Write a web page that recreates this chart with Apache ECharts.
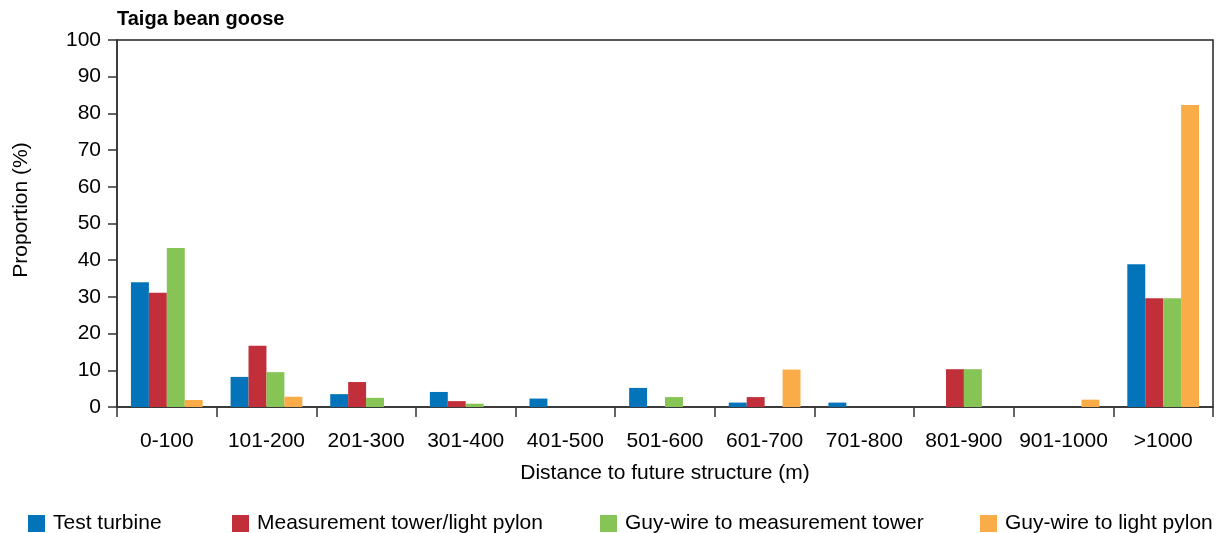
<!DOCTYPE html>
<html><head><meta charset="utf-8">
<script src="https://cdn.jsdelivr.net/npm/echarts@6/dist/echarts.min.js"></script>
<style>html,body{margin:0;padding:0;background:#fff}#c{width:1217px;height:533px}</style>
</head><body><div id="c"></div>
<script>
const categories = ['0-100','101-200','201-300','301-400','401-500','501-600','601-700','701-800','801-900','901-1000','>1000'];
const testTurbine = [34.0, 8.2, 3.5, 4.1, 2.3, 5.2, 1.2, 1.2, null, null, 38.9];
const measTower = [31.1, 16.7, 6.8, 1.6, null, null, 2.7, null, 10.3, null, 29.6];
const guyMeas = [43.3, 9.5, 2.5, 0.9, null, 2.7, null, null, 10.3, null, 29.6];
const guyLight = [1.9, 2.8, null, null, null, null, 10.2, null, null, 2.0, 82.3];
const seriesNames = ['Test turbine','Measurement tower/light pylon','Guy-wire to measurement tower','Guy-wire to light pylon'];
const colors = ['#0474BA','#C1303A','#87C456','#F9AC48'];
const yTicks = [0,10,20,30,40,50,60,70,80,90,100];

const font = 'Liberation Sans, Arial, Helvetica, sans-serif';
const chart = echarts.init(document.getElementById('c'));
const dataSets = [testTurbine, measTower, guyMeas, guyLight];
const legendLefts = [23, 227, 595, 975];
chart.setOption({
  animation: false,
  title: {text: 'Taiga bean goose', left: 112, top: 4, textStyle: {fontFamily: font, fontSize: 20, fontWeight: 'bold', color: '#000'}},
  grid: {left: 117, right: 4, top: 40, bottom: 126, show: true, borderColor: '#222', borderWidth: 1.5},
  graphic: [{
    type: 'text', x: 21, y: 210, rotation: Math.PI / 2,
    style: {text: 'Proportion (%)', fontFamily: font, fontSize: 21, fill: '#000', align: 'center', verticalAlign: 'middle'}
  }],
  legend: seriesNames.map((n, i) => ({
    data: [n], left: legendLefts[i], top: 508, itemWidth: 17, itemHeight: 17, itemGap: 0,
    icon: 'rect', textStyle: {fontFamily: font, fontSize: 21, color: '#000', padding: [0,0,0,3]}
  })),
  xAxis: {
    type: 'category', data: categories,
    name: 'Distance to future structure (m)', nameLocation: 'middle', nameGap: 56,
    nameTextStyle: {fontFamily: font, fontSize: 21, color: '#000'},
    axisLine: {lineStyle: {color: '#333', width: 1.5}},
    axisTick: {show: true, interval: 0, length: 10, lineStyle: {color: '#333', width: 1.5}},
    axisLabel: {interval: 0, fontFamily: font, fontSize: 21, color: '#000', margin: 24}
  },
  yAxis: {
    type: 'value', min: 0, max: 100, interval: 10,
    axisLine: {show: true, lineStyle: {color: '#333', width: 1.5}},
    axisTick: {show: true, length: 9, lineStyle: {color: '#333', width: 1.5}},
    axisLabel: {fontFamily: font, fontSize: 21, color: '#000', margin: 16,
      formatter: v => yTicks.includes(v) ? String(v) : ''},
    splitLine: {show: false}
  },
  series: dataSets.map((d, i) => ({
    name: seriesNames[i], type: 'bar', data: d, barGap: '0%', barCategoryGap: '28%',
    itemStyle: {color: colors[i]}
  }))
});
</script></body></html>
